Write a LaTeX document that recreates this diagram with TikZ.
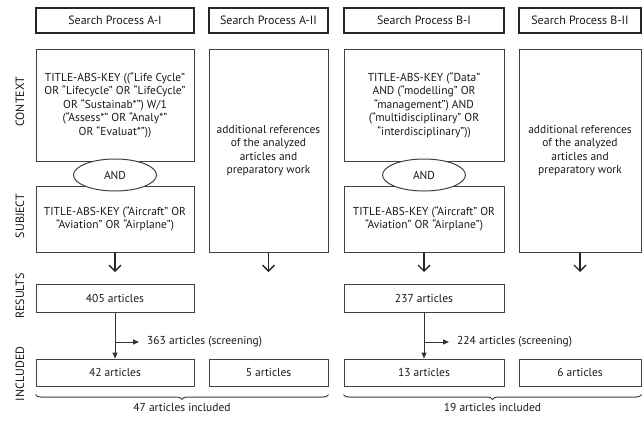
\documentclass[tikz,border=0pt]{standalone}
\usepackage{fontspec}
\setmainfont{PT Sans}
\usepackage{tikz}
\usetikzlibrary{arrows.meta,shapes.geometric,decorations.pathreplacing}

\begin{document}
\begin{tikzpicture}[x=1pt,y=-1pt]
\tikzstyle{every node}=[font=\fontsize{11.5}{13.5}\selectfont, text=black!90]
\tikzstyle{head}=[draw=black!85, line width=1.8pt, minimum height=25pt, inner sep=0pt, font=\fontsize{12}{14}\selectfont]
\tikzstyle{box}=[draw=black!75, line width=1pt, align=center, inner sep=0pt]
\tikzstyle{andnode}=[ellipse, draw=black!75, fill=white, line width=1pt, minimum width=83pt, minimum height=32pt, inner sep=0pt]
\tikzstyle{lab}=[rotate=90, font=\fontsize{12}{14}\selectfont]
\tikzstyle{bigarrow}=[draw=black!85, line width=1.4pt, -{Straight Barb[length=6pt,width=12pt]}]
\tikzstyle{smallarrow}=[draw=black!80, line width=1pt, -{Triangle[length=6pt,width=5pt]}]
\tikzstyle{brc}=[draw=black!75, line width=1pt, decorate, decoration={brace, mirror, amplitude=5pt}]
\useasboundingbox (0,0) rectangle (644,423);

\node[lab] (lcontext) at (20,102) {CONTEXT};
\node[lab] (lsubject) at (20,216) {SUBJECT};
\node[lab] (lresults) at (20,296) {RESULTS};
\node[lab] (lincluded) at (20,374) {INCLUDED};

% process A
\node[head, minimum width=158pt] (hAI) at (115,20.5) {Search Process A-I};
\node[head, minimum width=119pt] (hAII) at (268.5,20.5) {Search Process A-II};
\node[box, minimum width=158pt, minimum height=112pt] (ctxA) at (115,105) {TITLE-ABS-KEY ((“Life Cycle”\\OR “Lifecycle” OR “LifeCycle”\\OR “Sustainab*”) W/1\\(“Assess*” OR “Analy*”\\OR “Evaluat*”))};
\node[box, minimum width=158pt, minimum height=66pt] (subA) at (115,219) {TITLE-ABS-KEY (“Aircraft” OR\\“Aviation” OR “Airplane”)};
\node[andnode] (andA) at (115,175) {AND};
\node[box, minimum width=119pt, minimum height=203pt] (refA) at (268.5,150.5) {additional references\\of the analyzed\\articles and\\preparatory work};
\node[box, minimum width=158pt, minimum height=28pt] (resA) at (115,298) {405 articles};
\node[box, minimum width=158pt, minimum height=27pt] (incA) at (115,372.5) {42 articles};
\node[box, minimum width=119pt, minimum height=27pt] (incAII) at (268.5,372.5) {5 articles};
\node[anchor=west, inner sep=0pt] (scrA) at (147,342) {363 articles (screening)};
\coordinate (arrA) at (115,272);
\coordinate (arrAII) at (268.5,272);
\coordinate (brA) at (115,342);
\draw[bigarrow] (subA.south) -- (arrA);
\draw[bigarrow] (refA.south) -- (arrAII);
\draw[smallarrow] (resA.south) -- (incA.north);
\draw[smallarrow, shorten >=8pt] (brA) -- (scrA.west);
\draw[brc] ([yshift=-8pt]incA.south west) -- ([yshift=-8pt]incAII.south east) node[midway, below=8pt, inner sep=0pt] (totA) {47 articles included};

% process B
\node[head, minimum width=160pt] (hBI) at (424,20.5) {Search Process B-I};
\node[head, minimum width=122pt] (hBII) at (580,20.5) {Search Process B-II};
\node[box, minimum width=160pt, minimum height=112pt] (ctxB) at (424,105) {TITLE-ABS-KEY (“Data”\\AND (“modelling” OR\\“management”) AND\\(“multidisciplinary” OR\\“interdisciplinary”))};
\node[box, minimum width=160pt, minimum height=66pt] (subB) at (424,219) {TITLE-ABS-KEY (“Aircraft” OR\\“Aviation” OR “Airplane”)};
\node[andnode] (andB) at (424,175) {AND};
\node[box, minimum width=122pt, minimum height=203pt] (refB) at (580,150.5) {additional references\\of the analyzed\\articles and\\preparatory work};
\node[box, minimum width=160pt, minimum height=28pt] (resB) at (424,298) {237 articles};
\node[box, minimum width=160pt, minimum height=27pt] (incB) at (424,372.5) {13 articles};
\node[box, minimum width=122pt, minimum height=27pt] (incBII) at (580,372.5) {6 articles};
\node[anchor=west, inner sep=0pt] (scrB) at (457,342) {224 articles (screening)};
\coordinate (arrB) at (424,272);
\coordinate (arrBII) at (580,272);
\coordinate (brB) at (424,342);
\draw[bigarrow] (subB.south) -- (arrB);
\draw[bigarrow] (refB.south) -- (arrBII);
\draw[smallarrow] (resB.south) -- (incB.north);
\draw[smallarrow, shorten >=8pt] (brB) -- (scrB.west);
\draw[brc] ([yshift=-8pt]incB.south west) -- ([yshift=-8pt]incBII.south east) node[midway, below=8pt, inner sep=0pt] (totB) {19 articles included};
\end{tikzpicture}
\end{document}
